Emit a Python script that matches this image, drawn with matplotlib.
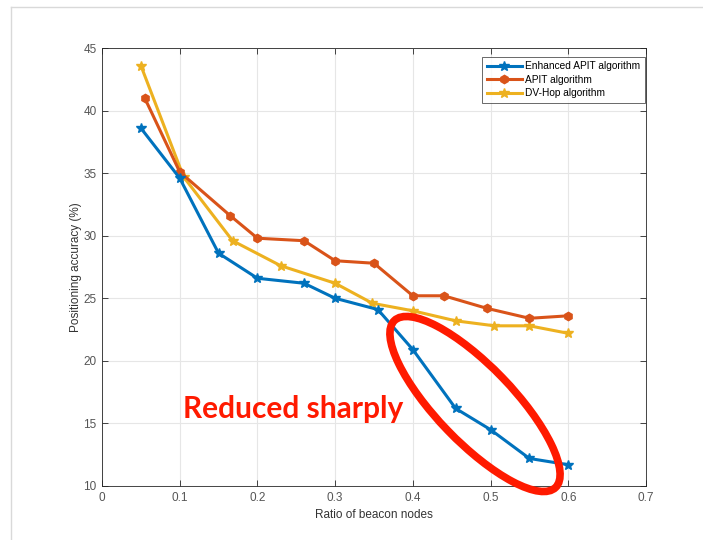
import matplotlib
matplotlib.use("Agg")
import matplotlib.pyplot as plt
from matplotlib.patches import Ellipse
from matplotlib.lines import Line2D
from matplotlib.transforms import IdentityTransform

plt.rcParams['font.family'] = ['Liberation Sans', 'DejaVu Sans']

# Data
x_enh = [0.05, 0.10, 0.15, 0.20, 0.26, 0.30, 0.355, 0.40, 0.455, 0.50, 0.55, 0.60]
y_enh = [38.6, 34.6, 28.6, 26.6, 26.2, 25.0, 24.1, 20.9, 16.2, 14.5, 12.2, 11.7]

x_apit = [0.055, 0.10, 0.165, 0.20, 0.26, 0.30, 0.35, 0.40, 0.44, 0.495, 0.55, 0.60]
y_apit = [41.0, 35.1, 31.6, 29.8, 29.6, 28.0, 27.8, 25.2, 25.2, 24.2, 23.4, 23.6]

x_dv = [0.05, 0.105, 0.168, 0.23, 0.30, 0.348, 0.40, 0.455, 0.505, 0.55, 0.60]
y_dv = [43.6, 34.7, 29.6, 27.6, 26.2, 24.6, 24.0, 23.2, 22.8, 22.8, 22.2]

labels = ['Enhanced APIT algorithm', 'APIT algorithm', 'DV-Hop algorithm']
xticks = [0, 0.1, 0.2, 0.3, 0.4, 0.5, 0.6, 0.7]
xticklabels = ['0', '0.1', '0.2', '0.3', '0.4', '0.5', '0.6', '0.7']
yticks = [10, 15, 20, 25, 30, 35, 40, 45]

c_blue = '#0072BD'
c_orange = '#D95319'
c_yellow = '#EDB120'

W, H = 703, 540
fig = plt.figure(figsize=(W / 100, H / 100), dpi=100)
fig.patch.set_facecolor('white')

# light grey page frame
fig.add_artist(Line2D([11 / W, 1.0], [1 - 7 / H, 1 - 7 / H], transform=fig.transFigure,
                      color='#d9d9d9', lw=1.0))
fig.add_artist(Line2D([11 / W, 11 / W], [0, 1 - 7 / H], transform=fig.transFigure,
                      color='#d9d9d9', lw=1.0))

ax = fig.add_axes([102 / W, 1 - 486 / H, (646 - 102) / W, (486 - 48) / H])

ax.plot(x_enh, y_enh, color=c_blue, lw=2.2, marker='*', ms=7, label=labels[0], zorder=5)
ax.plot(x_apit, y_apit, color=c_orange, lw=2.2, marker='h', ms=6, label=labels[1], zorder=4)
ax.plot(x_dv, y_dv, color=c_yellow, lw=2.2, marker='*', ms=7, label=labels[2], zorder=3)

ax.set_xlim(0, 0.7)
ax.set_ylim(10, 45)
ax.set_xticks(xticks)
ax.set_xticklabels(xticklabels)
ax.set_yticks(yticks)
ax.grid(True, color='#e6e6e6', lw=0.8)
ax.set_axisbelow(True)
ax.tick_params(direction='in', top=True, right=True, length=4, width=0.6,
               colors='#262626', labelcolor='#555555', labelsize=8.5, pad=4)
for s in ax.spines.values():
    s.set_color('#262626')
    s.set_linewidth(0.6)

ax.set_xlabel('Ratio of beacon nodes', fontsize=8.5, color='#333333', labelpad=4)
ax.set_ylabel('Positioning accuracy (%)', fontsize=8.5, color='#333333', labelpad=1)

leg = ax.legend(loc='upper right', bbox_to_anchor=(0.998, 0.98), fontsize=7.3,
                frameon=True, fancybox=False, handlelength=3.5, handletextpad=0.3,
                borderpad=0.45, labelspacing=0.35, borderaxespad=0.0)
leg.get_frame().set_edgecolor('#262626')
leg.get_frame().set_linewidth(0.6)

# annotation text
fig.text(183 / W, 1 - 418 / H, 'Reduced sharply', family=['Lato', 'DejaVu Sans'],
         fontweight='bold', fontsize=21.5, color='#ff1a00', ha='left', va='baseline')

# red ellipse in pixel coords
ell = Ellipse((475, H - 404), width=232, height=76, angle=-46,
              transform=IdentityTransform(), fill=False, edgecolor='#ff1a00', lw=5.5,
              zorder=10)
fig.add_artist(ell)

fig.savefig('out.png', dpi=100, facecolor='white')
